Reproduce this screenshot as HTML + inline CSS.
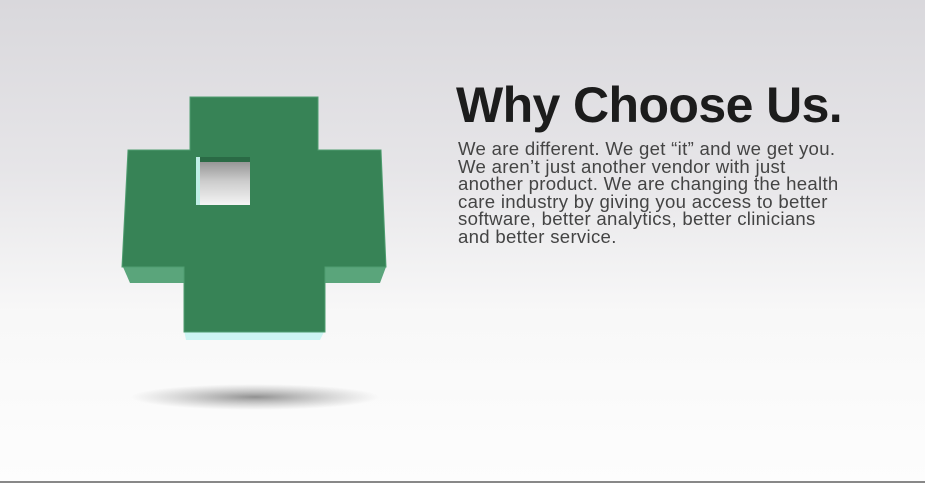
<!DOCTYPE html>
<html><head><style>
body{margin:0;width:925px;height:483px;overflow:hidden;background:linear-gradient(#d9d8dc 0%,#e6e5e8 35%,#f8f8f8 65%,#fdfdfd 100%);position:relative;font-family:"Liberation Sans",sans-serif}
.t{position:absolute;left:456px;top:76px;font-size:50px;font-weight:bold;color:#1c1c1c;letter-spacing:-0.6px;white-space:nowrap}
.b{position:absolute;left:458px;top:140px;font-size:18.6px;line-height:17.6px;color:#444;white-space:nowrap;letter-spacing:0.3px}
</style></head><body>
<svg width="925" height="483" style="position:absolute;left:0;top:0">
<defs>
<radialGradient id="sh" cx="50%" cy="50%" r="50%"><stop offset="0" stop-color="#777" stop-opacity=".8"/><stop offset="1" stop-color="#999" stop-opacity="0"/></radialGradient>
<linearGradient id="hole" x1="0" y1="0" x2="0" y2="1"><stop offset="0" stop-color="#888"/><stop offset=".5" stop-color="#ccc"/><stop offset="1" stop-color="#f4f4f4"/></linearGradient>
</defs>
<ellipse cx="255" cy="397" rx="125" ry="13" fill="url(#sh)"/>
<polygon points="123,267 190,267 190,283 130,283" fill="#5aa57b"/>
<polygon points="318,267 386,267 380,283 318,283" fill="#5aa57b"/>
<polygon points="184,330 325,330 320,340 186,340" fill="#cdf5f3"/>
<polygon points="190,97 318,97 318,150 381,150 386,267 325,267 325,332 184,332 184,267 122,267 128,150 190,150" fill="#378356" stroke="#4f9d70" stroke-width="1"/>
<rect x="196" y="157" width="54" height="48" fill="url(#hole)"/>
<rect x="196" y="157" width="54" height="5" fill="#2a6a45"/>
<rect x="196" y="157" width="4" height="48" fill="#bfeee6"/>
<rect x="0" y="481" width="925" height="2" fill="#888"/>
</svg>
<div class="t">Why Choose Us.</div>
<div class="b">We are different. We get “it” and we get you.<br>We aren’t just another vendor with just<br>another product. We are changing the health<br>care industry by giving you access to better<br>software, better analytics, better clinicians<br>and better service.</div>
</body></html>
